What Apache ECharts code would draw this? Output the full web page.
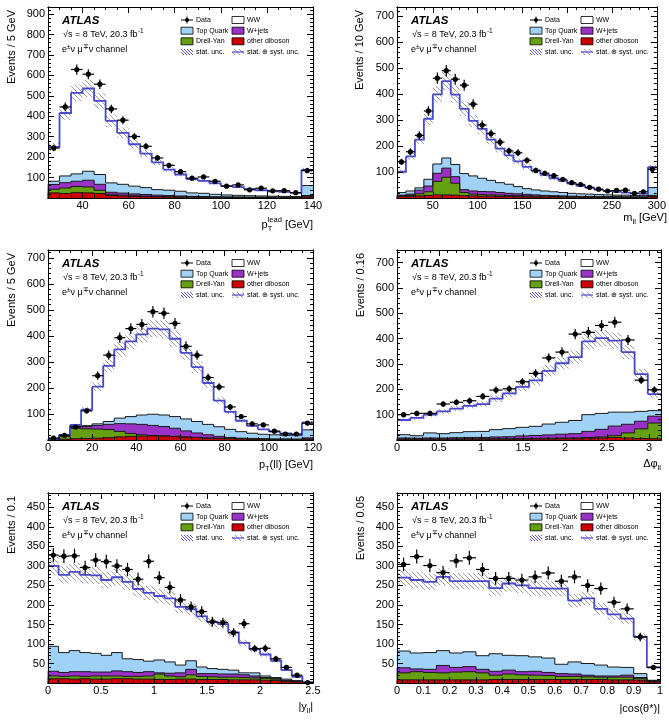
<!DOCTYPE html>
<html lang="en">
<head>
<meta charset="UTF-8">
<title>WW control distributions</title>
<script src="https://cdn.jsdelivr.net/npm/echarts@6/dist/echarts.min.js"></script>
<style>html,body{margin:0;padding:0;background:#fff;}</style>
</head>
<body>
<div id="main" style="width:669px;height:721px;"></div>
<script type="text/javascript">
// ---- data (events per bin) ----
// leading lepton pT, 25..140 GeV, 5 GeV bins
var ptLeadData  = [245,446,629,606,557,436,381,301,253,196,160,129,97,103,82,58,64,40,48,35,36,26,134];
var ptLeadWW    = [168,308,397,405,360,304,252,205,166,133,101,82,67,61,54,44,40,33,28,24,22,18,77];
var ptLeadTop   = [16,33,36,44,48,46,43,38,34,27,26,23,17,16,12,10,8,7,6,5,4,4,49];
var ptLeadWjets = [23,26,26,33,29,10,10,9,8,7,6,5,3,3,2,1,2,1,1,1,1,0,5];
var ptLeadDY    = [18,27,30,29,16,6,4,3,2,1,1,1,1,1,1,1,1,1,1,1,1,1,2];
var ptLeadVV    = [25,22,26,25,22,12,10,8,7,6,5,4,4,3,3,3,2,2,2,2,2,2,5];
var ptLeadXTicks = [40,60,80,100,120,140];
var ptLeadYTicks = [100,200,300,400,500,600,700,800,900];

// m_ll, 10..300 GeV, 10 GeV bins
var mllData  = [139,178,241,335,461,490,457,434,361,281,248,215,181,174,145,106,95,86,72,59,52,41,34,27,29,30,18,24,111];
var mllWW    = [80,133,186,233,268,296,269,249,212,190,157,131,111,97,84,73,62,52,45,37,31,24,19,15,13,10,8,7,79];
var mllTop   = [10,12,9,26,36,39,47,62,58,51,44,38,35,28,22,19,17,15,13,11,10,9,8,7,6,7,6,6,30];
var mllWjets = [3,5,14,22,31,35,25,11,12,12,12,10,8,7,6,5,3,3,2,2,1,1,1,1,1,0,0,0,4];
var mllDY    = [2,4,8,14,52,68,46,12,7,6,5,5,4,4,3,3,3,2,3,2,2,2,2,2,2,2,2,2,2];
var mllVV    = [6,6,8,10,12,12,11,9,8,7,7,6,6,5,5,4,4,4,3,3,3,3,2,2,2,2,2,2,4];
var mllXTicks = [50,100,150,200,250,300];
var mllYTicks = [100,200,300,400,500,600,700];

// pT(ll), 0..120 GeV, 5 GeV bins
var ptllData  = [7,18,50,112,247,326,393,428,444,493,487,448,360,326,240,204,127,90,62,58,34,23,23,65];
var ptllWW    = [1,2,3,62,143,214,264,289,310,329,329,299,254,209,159,100,67,42,28,19,12,7,3,28];
var ptllTop   = [1,2,3,3,6,11,21,28,36,43,44,45,46,44,40,37,31,25,20,17,16,14,14,31];
var ptllWjets = [1,2,7,9,14,20,30,37,40,39,36,31,23,17,12,7,4,2,2,1,1,1,0,4];
var ptllDY    = [1,11,40,37,35,31,21,11,5,1,1,1,1,1,1,1,1,1,1,1,1,1,1,1];
var ptllVV    = [1,3,5,6,7,9,12,14,15,16,15,13,11,9,7,6,5,4,3,3,2,2,2,3];
var ptllXTicks = [0,20,40,60,80,100,120];
var ptllYTicks = [100,200,300,400,500,600,700];

// delta phi(ll), 0..pi, 20 bins
var dphiData  = [100,105,105,142,149,155,172,197,202,230,263,324,347,418,425,452,465,395,236,198];
var dphiWW    = [58,70,72,88,95,102,108,122,139,160,181,210,233,250,289,297,282,237,147,65];
var dphiTop   = [13,10,20,17,20,23,24,29,32,34,36,43,47,52,66,63,55,48,39,22];
var dphiWjets = [4,3,4,4,5,5,5,7,8,10,12,13,15,17,24,30,38,34,30,27];
var dphiDY    = [1,1,1,1,1,2,2,2,2,3,2,3,3,3,3,4,7,20,38,62];
var dphiVV    = [3,3,3,3,3,3,3,3,3,3,4,4,5,5,7,8,10,8,6,5];
var dphiXTicks = [0,0.5,1,1.5,2,2.5,3];
var dphiYTicks = [100,200,300,400,500,600,700];

// |y_ll|, 0..2.5, 0.1 bins
var yllData  = [328,325,326,296,315,311,300,291,266,312,270,245,213,195,183,157,155,129,152,88,89,62,40,20,1];
var yllWW    = [206,199,202,199,200,193,193,197,181,175,164,163,149,132,130,119,116,97,77,60,55,43,23,10,0];
var yllTop   = [64,51,54,49,48,43,47,33,33,27,33,29,20,22,17,13,12,10,5,8,4,3,3,1,0];
var yllWjets = [12,10,11,12,10,10,13,12,10,11,3,7,10,14,7,8,8,8,7,5,2,1,1,1,1];
var yllDY    = [7,6,8,6,8,8,7,6,7,8,14,9,6,11,8,7,6,7,6,5,5,4,2,1,0];
var yllVV    = [11,11,10,11,10,10,11,11,10,10,9,9,10,10,9,9,9,8,8,8,7,6,4,3,1];
var yllXTicks = [0,0.5,1,1.5,2,2.5];
var yllYTicks = [50,100,150,200,250,300,350,400,450];

// |cos(theta*)|, 0..1, 0.05 bins
var cosData  = [304,324,301,283,313,321,291,268,268,264,272,282,261,272,250,242,207,190,118,40];
var cosWW    = [188,187,181,189,184,181,191,168,184,180,176,178,194,157,167,144,135,125,94,33];
var cosTop   = [43,41,43,38,37,38,35,45,38,41,37,37,24,31,30,28,23,20,10,1];
var cosWjets = [13,7,8,19,12,13,9,10,10,8,10,8,7,6,4,3,3,5,3,2];
var cosDY    = [18,21,19,18,20,21,18,11,14,12,11,10,8,8,7,6,7,7,4,1];
var cosVV    = [8,8,8,8,8,8,8,9,9,9,9,9,9,9,9,9,8,8,7,3];
var cosXTicks = [0,0.1,0.2,0.3,0.4,0.5,0.6,0.7,0.8,0.9,1];
var cosYTicks = [50,100,150,200,250,300,350,400,450];

var SYST = 0.08;   // relative size of the stat+syst band

// ---- style ----
var FONT = '"Liberation Sans", Arial, Helvetica, sans-serif';
var C_TOP = '#9fd2f6', C_WJ = '#9a32c8', C_DY = '#64a010', C_VV = '#cc0000', C_TOT = '#4848cc', C_EDGE = '#1a1a1a';

var panels = [
  {lo:25, w:5, data:ptLeadData, ww:ptLeadWW, top:ptLeadTop, wj:ptLeadWjets, dy:ptLeadDY, vv:ptLeadVV,
   xMin:25, xMax:140, xTicks:ptLeadXTicks, xMinor:5, yMax:935, yTicks:ptLeadYTicks, yMinor:20,
   grid:{left:48, top:7, width:265, height:191}, yName:'Events / 5 GeV', yNameX:12,
   xName:[{t:'p'},{sup:'lead', sub:'T'},{t:' [GeV]'}], xNameY:225},
  {lo:10, w:10, data:mllData, ww:mllWW, top:mllTop, wj:mllWjets, dy:mllDY, vv:mllVV,
   xMin:10, xMax:300, xTicks:mllXTicks, xMinor:10, yMax:735, yTicks:mllYTicks, yMinor:20,
   grid:{left:397, top:7, width:270, height:191}, yName:'Events / 10 GeV', yNameX:360,
   xName:[{t:'m'},{sub:'ll'},{t:' [GeV]'}], xNameY:218},
  {lo:0, w:5, data:ptllData, ww:ptllWW, top:ptllTop, wj:ptllWjets, dy:ptllDY, vv:ptllVV,
   xMin:0, xMax:120, xTicks:ptllXTicks, xMinor:5, yMax:730, yTicks:ptllYTicks, yMinor:20,
   grid:{left:48, top:250, width:265, height:190}, yName:'Events / 5 GeV', yNameX:12,
   xName:[{t:'p'},{sub:'T'},{t:'(ll) [GeV]'}], xNameY:465},
  {lo:0, w:Math.PI / 20, data:dphiData, ww:dphiWW, top:dphiTop, wj:dphiWjets, dy:dphiDY, vv:dphiVV,
   xMin:0, xMax:Math.PI, xTicks:dphiXTicks, xMinor:0.1, yMax:750, yTicks:dphiYTicks, yMinor:20,
   grid:{left:397, top:250, width:264, height:190}, yName:'Events / 0.16', yNameX:361,
   xName:[{t:'\u0394\u03c6'},{sub:'ll'}], xNameY:464},
  {lo:0, w:0.1, data:yllData, ww:yllWW, top:yllTop, wj:yllWjets, dy:yllDY, vv:yllVV,
   xMin:0, xMax:2.5, xTicks:yllXTicks, xMinor:0.1, yMax:487, yTicks:yllYTicks, yMinor:10,
   grid:{left:48, top:493, width:265, height:190}, yName:'Events / 0.1', yNameX:12,
   xName:[{t:'|y'},{sub:'ll'},{t:'|'}], xNameY:707},
  {lo:0, w:0.05, data:cosData, ww:cosWW, top:cosTop, wj:cosWjets, dy:cosDY, vv:cosVV,
   xMin:0, xMax:1, xTicks:cosXTicks, xMinor:0.02, yMax:487, yTicks:cosYTicks, yMinor:10,
   grid:{left:397, top:493, width:263, height:190}, yName:'Events / 0.05', yNameX:361,
   xName:[{t:'|cos(\u03b8*)|'}], xNameY:709}
];

// ---- helpers ----
var mctx = document.createElement('canvas').getContext('2d');
function tw(s, size, weight, style) {
    mctx.font = (style || '') + ' ' + (weight || '') + ' ' + size + 'px ' + FONT;
    return mctx.measureText(s).width;
}

function hatch(color, step) {
    var c = document.createElement('canvas');
    c.width = step; c.height = step;
    var g = c.getContext('2d');
    g.strokeStyle = color; g.lineWidth = 1;
    g.beginPath();
    g.moveTo(0, 0); g.lineTo(step, step);
    g.moveTo(-1, step - 1); g.lineTo(1, step + 1);
    g.moveTo(step - 1, -1); g.lineTo(step + 1, 1);
    g.stroke();
    return {image: c, repeat: 'repeat'};
}
var hatchGrey = hatch('#9c9c9c', 5);
var hatchBlue = hatch('#5a5ad0', 3);

function ticksFrom(min, max, step) {
    var out = [];
    for (var v = Math.ceil(min / step - 1e-9) * step; v <= max + 1e-9; v += step) {
        out.push(Math.round(v * 10000) / 10000);
    }
    return out;
}

function txt(x, y, s, size, extra) {
    var st = {text: s, fontSize: size, fontFamily: FONT, fill: '#000',
              align: 'left', verticalAlign: 'middle', textAlign: 'left', textVerticalAlign: 'middle'};
    for (var k in extra) st[k] = extra[k];
    return {type: 'text', x: x, y: y, z: 20, silent: true, style: st};
}

function axisObj(gi, isX, pos, min, max, ticks, len, labels) {
    return {
        type: 'value', gridIndex: gi, position: pos, min: min, max: max, z: 10,
        axisLine: {show: true, onZero: false, lineStyle: {color: '#000', width: 1}},
        axisTick: {show: true, inside: true, length: len, customValues: ticks, lineStyle: {color: '#000', width: 1}},
        axisLabel: labels ? {show: true, customValues: labels, color: '#000', fontSize: 11,
                             fontFamily: FONT, margin: isX ? 2 : 3} : {show: false},
        splitLine: {show: false},
        minorTick: {show: false}
    };
}

// histogram outline: top of each bin plus the riser to the next bin
function stepSeries(xi, yi, p, cum, color, width, z) {
    var items = cum.map(function (v, i) {
        var next = i + 1 < cum.length ? cum[i + 1] : v;
        return [p.lo + i * p.w, p.lo + (i + 1) * p.w, v, next];
    });
    return {
        type: 'custom', xAxisIndex: xi, yAxisIndex: yi, z: z, silent: true, animation: false,
        encode: {x: [0, 1], y: [2, 3]},
        data: items,
        renderItem: function (params, api) {
            var a = api.coord([api.value(0), api.value(2)]);
            var b = api.coord([api.value(1), api.value(2)]);
            var c = api.coord([api.value(1), api.value(3)]);
            return {type: 'polyline', shape: {points: [a, b, c]},
                    style: {stroke: color, lineWidth: width, fill: null, lineJoin: 'miter'}};
        }
    };
}

// one rect per bin; pad widens it a little so neighbouring bins leave no seam
function rectSeries(xi, yi, items, fill, z, pad) {
    return {
        type: 'custom', xAxisIndex: xi, yAxisIndex: yi, z: z, silent: true, animation: false,
        encode: {x: [0, 1], y: [2, 3]},
        data: items,
        renderItem: function (params, api) {
            var a = api.coord([api.value(0), api.value(3)]);
            var b = api.coord([api.value(1), api.value(2)]);
            return {type: 'rect', shape: {x: a[0] - pad, y: a[1], width: b[0] - a[0] + 2 * pad, height: b[1] - a[1]},
                    style: {fill: fill}};
        }
    };
}

function dataSeries(xi, yi, items) {
    return {
        type: 'custom', xAxisIndex: xi, yAxisIndex: yi, z: 8, silent: true, animation: false,
        encode: {x: [0, 1], y: 2},
        data: items,
        renderItem: function (params, api) {
            var x0 = api.value(0), x1 = api.value(1), y = api.value(2), e = api.value(3);
            var xm = (x0 + x1) / 2;
            var l = api.coord([x0, y]), r = api.coord([x1, y]);
            var t = api.coord([xm, y + e]), b = api.coord([xm, Math.max(y - e, 0)]);
            var c = api.coord([xm, y]);
            return {type: 'group', children: [
                {type: 'line', shape: {x1: l[0], y1: l[1], x2: r[0], y2: r[1]}, style: {stroke: '#000', lineWidth: 1.2}},
                {type: 'line', shape: {x1: t[0], y1: t[1], x2: b[0], y2: b[1]}, style: {stroke: '#000', lineWidth: 1.2}},
                {type: 'circle', shape: {cx: c[0], cy: c[1], r: 2.6}, style: {fill: '#000'}}
            ]};
        }
    };
}

function xNameEls(segs, right, y) {
    var els = [], x = right, S = 11, s2 = 7.5;
    for (var i = segs.length - 1; i >= 0; i--) {
        var sg = segs[i], w;
        if (sg.t) {
            w = tw(sg.t, S);
            els.push(txt(x - w, y, sg.t, S));
        } else {
            w = Math.max(sg.sup ? tw(sg.sup, s2) : 0, sg.sub ? tw(sg.sub, s2) : 0);
            if (sg.sup) els.push(txt(x - w, y - 5, sg.sup, s2));
            if (sg.sub) els.push(txt(x - w, y + 4, sg.sub, s2));
        }
        x -= w;
    }
    return els;
}

function boxEl(x, y, fill) {
    return {type: 'rect', z: 20, silent: true, shape: {x: x, y: y - 3.5, width: 12, height: 7},
            style: {fill: fill, stroke: '#000', lineWidth: 0.8}};
}

function labelEls(g) {
    var L = g.left, T = g.top, els = [];
    els.push(txt(L + 14, T + 14, 'ATLAS', 11.5, {fontWeight: 'bold', fontStyle: 'italic'}));
    var s1 = '\u221as = 8 TeV, 20.3 fb';
    els.push(txt(L + 15, T + 27.5, s1, 9));
    els.push(txt(L + 15 + tw(s1, 9) + 0.5, T + 24.5, '-1', 6.5));
    // e±ν μ∓ν channel
    var x = L + 14, y = T + 43;
    var parts = [['e', 9, 0], ['\u00b1', 6.5, -3], ['\u03bd \u03bc', 9, 0], ['\u2213', 6.5, -3], ['\u03bd channel', 9, 0]];
    parts.forEach(function (pp) {
        els.push(txt(x, y + pp[2], pp[0], pp[1]));
        x += tw(pp[0], pp[1]);
    });
    // legend
    var c1 = L + 133, c2 = L + 184, rows = [T + 13, T + 23.7, T + 34.3, T + 45], fs = 7;
    els.push({type: 'line', z: 20, silent: true, shape: {x1: c1, y1: rows[0], x2: c1 + 12, y2: rows[0]}, style: {stroke: '#000', lineWidth: 1}});
    els.push({type: 'line', z: 20, silent: true, shape: {x1: c1 + 6, y1: rows[0] - 3.5, x2: c1 + 6, y2: rows[0] + 3.5}, style: {stroke: '#000', lineWidth: 1}});
    els.push({type: 'circle', z: 20, silent: true, shape: {cx: c1 + 6, cy: rows[0], r: 2}, style: {fill: '#000'}});
    els.push(txt(c1 + 15, rows[0], 'Data', fs));
    els.push(boxEl(c2, rows[0], '#fff'));
    els.push(txt(c2 + 15, rows[0], 'WW', fs));
    els.push(boxEl(c1, rows[1], C_TOP));
    els.push(txt(c1 + 15, rows[1], 'Top Quark', fs));
    els.push(boxEl(c2, rows[1], C_WJ));
    els.push(txt(c2 + 15, rows[1], 'W+jets', fs));
    els.push(boxEl(c1, rows[2], C_DY));
    els.push(txt(c1 + 15, rows[2], 'Drell-Yan', fs));
    els.push(boxEl(c2, rows[2], C_VV));
    els.push(txt(c2 + 15, rows[2], 'other diboson', fs));
    els.push({type: 'rect', z: 20, silent: true, shape: {x: c1, y: rows[3] - 3, width: 12, height: 6}, style: {fill: hatchBlue}});
    els.push(txt(c1 + 15, rows[3], 'stat. unc.', fs));
    els.push({type: 'rect', z: 20, silent: true, shape: {x: c2, y: rows[3] - 3, width: 12, height: 6}, style: {fill: hatchGrey}});
    els.push({type: 'line', z: 20, silent: true, shape: {x1: c2, y1: rows[3], x2: c2 + 12, y2: rows[3]}, style: {stroke: C_TOT, lineWidth: 1.2}});
    els.push(txt(c2 + 15, rows[3], 'stat. \u2295 syst. unc.', fs));
    return els;
}

// ---- build option ----
var grids = [], xAxes = [], yAxes = [], series = [], graphics = [];

panels.forEach(function (p, gi) {
    grids.push({left: p.grid.left, top: p.grid.top, width: p.grid.width, height: p.grid.height, show: false});

    var xi = xAxes.length, yi = yAxes.length;
    var xMinors = ticksFrom(p.xMin, p.xMax, p.xMinor), yMinors = ticksFrom(0, p.yMax, p.yMinor);
    xAxes.push(axisObj(gi, true, 'bottom', p.xMin, p.xMax, p.xTicks, 6, p.xTicks));
    xAxes.push(axisObj(gi, true, 'bottom', p.xMin, p.xMax, xMinors, 3, null));
    xAxes.push(axisObj(gi, true, 'top', p.xMin, p.xMax, p.xTicks, 6, null));
    xAxes.push(axisObj(gi, true, 'top', p.xMin, p.xMax, xMinors, 3, null));
    yAxes.push(axisObj(gi, false, 'left', 0, p.yMax, p.yTicks, 6, p.yTicks));
    yAxes.push(axisObj(gi, false, 'left', 0, p.yMax, yMinors, 3, null));
    yAxes.push(axisObj(gi, false, 'right', 0, p.yMax, p.yTicks, 6, null));
    yAxes.push(axisObj(gi, false, 'right', 0, p.yMax, yMinors, 3, null));

    // cumulative stack: other diboson, Drell-Yan, W+jets, top, WW
    var layers = [[p.vv, C_VV], [p.dy, C_DY], [p.wj, C_WJ], [p.top, C_TOP], [p.ww, '#ffffff']];
    var prev = p.vv.map(function () { return 0; });
    var cums = [];
    layers.forEach(function (ly) {
        var cum = prev.map(function (v, i) { return v + ly[0][i]; });
        cums.push(cum);
        prev = cum;
    });
    // every layer is filled from zero, painted from the top of the stack down
    for (var k = 4; k >= 0; k--) {
        var items = cums[k].map(function (v, i) { return [p.lo + i * p.w, p.lo + (i + 1) * p.w, 0, v]; });
        series.push(rectSeries(xi, yi, items, layers[k][1], 2, 0.4));
    }
    for (var j = 0; j < 4; j++) series.push(stepSeries(xi, yi, p, cums[j], C_EDGE, 1, 3));
    var total = cums[4];

    var band = total.map(function (v, i) { return [p.lo + i * p.w, p.lo + (i + 1) * p.w, v * (1 - SYST), v * (1 + SYST)]; });
    series.push(rectSeries(xi, yi, band, hatchGrey, 4, 0));
    series.push(stepSeries(xi, yi, p, total, C_TOT, 1.8, 5));

    var pts = p.data.map(function (v, i) { return [p.lo + i * p.w, p.lo + (i + 1) * p.w, v, Math.sqrt(v)]; });
    series.push(dataSeries(xi, yi, pts));

    // texts
    graphics = graphics.concat(labelEls(p.grid));
    graphics = graphics.concat(xNameEls(p.xName, p.grid.left + p.grid.width, p.xNameY));
    graphics.push(txt(p.yNameX, p.grid.top + 3, p.yName, 11,
        {align: 'right', textAlign: 'right'}));
    graphics[graphics.length - 1].rotation = Math.PI / 2;
});

var myChart = echarts.init(document.getElementById('main'));
myChart.setOption({
    backgroundColor: '#fff',
    animation: false,
    grid: grids,
    xAxis: xAxes,
    yAxis: yAxes,
    series: series,
    graphic: {elements: graphics}
});
</script>
</body>
</html>
